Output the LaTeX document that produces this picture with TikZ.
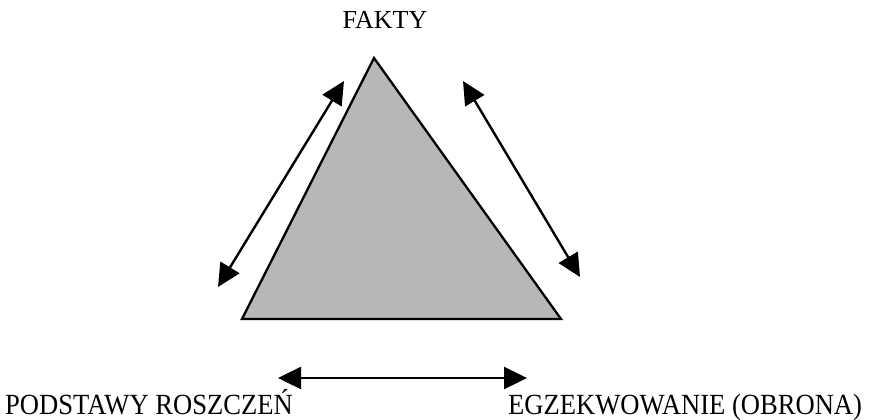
\documentclass[tikz,border=0pt]{standalone}
\usepackage{fontspec}
\setmainfont{Liberation Serif}
\usetikzlibrary{arrows.meta}
\definecolor{trigray}{RGB}{183,183,185}
\tikzset{
  lbl/.style={inner sep=0pt, font=\fontsize{26}{30}\selectfont},
  blbl/.style={inner sep=0pt, font=\fontsize{26.6}{30}\selectfont, yscale=1.1},
  dbl/.style={line width=2.4pt, {Triangle[length=23pt,width=22pt]}-{Triangle[length=23pt,width=22pt]}},
  tri/.style={line width=2.3pt, fill=trigray, line join=miter}
}
\begin{document}
\begin{tikzpicture}[x=1pt,y=-1pt]
\useasboundingbox (0,0) rectangle (871,420);
\coordinate (apex) at (374,58);
\coordinate (bl) at (242,319);
\coordinate (br) at (561,319);
\draw[tri] (apex) -- (br) -- (bl) -- cycle;
\coordinate (la1) at (218,287);
\coordinate (la2) at (344,81);
\coordinate (ra1) at (463,81);
\coordinate (ra2) at (580,277);
\coordinate (ba1) at (278,378);
\coordinate (ba2) at (527,378);
\draw[dbl] (la1) -- (la2);
\draw[dbl] (ra1) -- (ra2);
\draw[dbl] (ba1) -- (ba2);
\node[lbl, anchor=base] (fakty) at (385,29) {FAKTY};
\node[blbl, anchor=base west] (podst) at (5,414) {PODSTAWY ROSZCZEŃ};
\node[blbl, anchor=base west] (egz) at (508,414) {EGZEKWOWANIE (OBRONA)};
\end{tikzpicture}
\end{document}
